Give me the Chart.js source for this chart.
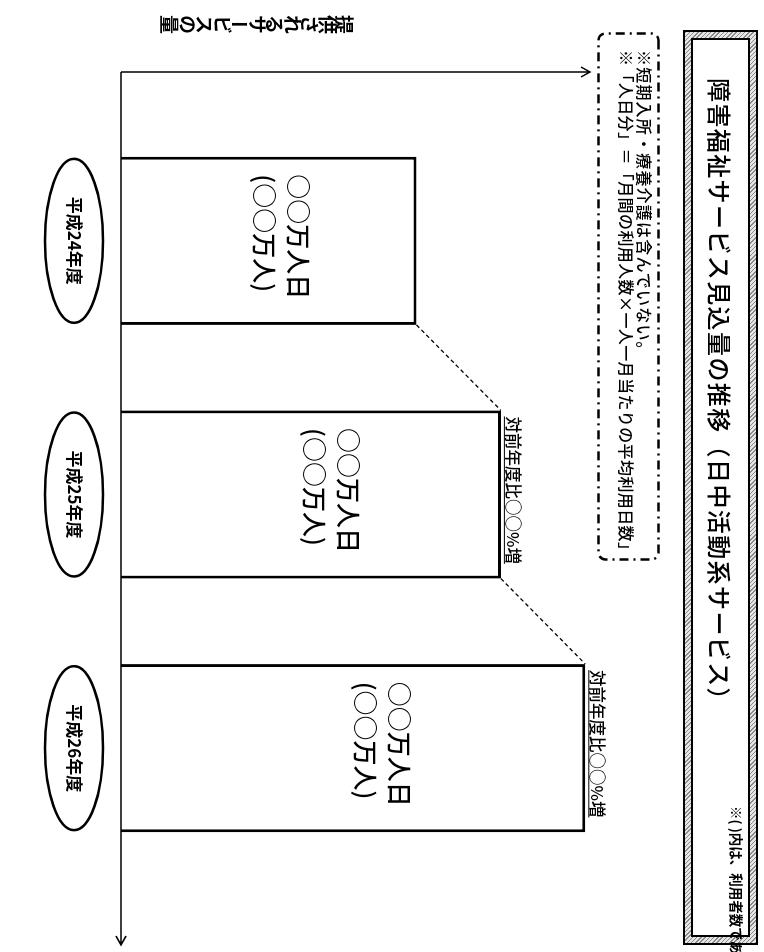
<!DOCTYPE html>
<html lang="ja">
<head>
<meta charset="utf-8">
<title>障害福祉サービス見込量の推移（日中活動系サービス）</title>
<script src="https://cdn.jsdelivr.net/npm/chart.js@4.4.1/dist/chart.umd.min.js"></script>
<style>
html, body { margin: 0; padding: 0; background: #fff; width: 764px; height: 952px; overflow: hidden; }
/* the sheet is laid out upright (952 x 764) and turned a quarter clockwise */
#page {
	position: absolute; left: 0; top: 0; width: 952px; height: 764px;
	transform-origin: 0 0; transform: translate(764px, 0) rotate(90deg);
	font-family: "Noto Sans CJK JP", sans-serif; color: #000; overflow: hidden;
}
#chart { position: absolute; left: 0; top: 0; }
#titleBox {
	position: absolute; left: 30px; top: 6px; width: 915px; height: 75px; box-sizing: border-box;
	border: 2px solid #000; padding: 6px;
	background: repeating-linear-gradient(45deg, #8a8a8a 0 1px, #e6e6e6 1px 3px);
}
#titleBox .inner {
	width: 100%; height: 100%; box-sizing: border-box; border: 2px solid #000; background: #fff;
	font-size: 24px; font-weight: 500; letter-spacing: 1.4px; line-height: 55px; padding-left: 38px; white-space: nowrap;
}
#noteBox { position: absolute; left: 32px; top: 104px; }
#noteText { position: absolute; left: 50px; top: 110px; font-size: 16px; font-weight: 500; line-height: 18px; white-space: nowrap; }
#noteText .l1 { letter-spacing: 1.2px; }
#noteText .l2 { letter-spacing: 0.4px; }
#axisTitle {
	position: absolute; left: 11px; top: 410px; writing-mode: vertical-rl;
	font-size: 19px; font-weight: bold; letter-spacing: -1.5px; white-space: nowrap;
}
#footNote { position: absolute; left: 806px; top: 17px; font-size: 13.5px; font-weight: bold; white-space: nowrap; }
</style>
</head>
<body>
<div id="page">
	<canvas id="chart" width="952" height="764"></canvas>
	<div id="titleBox"><div class="inner">障害福祉サービス見込量の推移（日中活動系サービス）</div></div>
	<svg id="noteBox" width="530" height="64">
		<rect x="1.5" y="1.5" width="526" height="60" rx="7" ry="7" fill="none" stroke="#000" stroke-width="2.5" stroke-dasharray="9 5 2 5"/>
	</svg>
	<div id="noteText">
		<div class="l1">※短期入所・療養介護は含んでいない。</div>
		<div class="l2">※「人日分」＝「月間の利用人数×一人一月当たりの平均利用日数」</div>
	</div>
	<div id="axisTitle">提供されるサービスの量</div>
	<div id="footNote">※( )内は、利用者数である。</div>
</div>

<script>
// fiscal years on the category axis
var years = ["平成24年度", "平成25年度", "平成26年度"];
// amount of service, relative units (the sheet only shows ○○ placeholders)
var serviceAmount = [63, 81, 99];
var valueMax = 100;
// texts written in and above the bars
var dayLabels = ["○○万人日", "○○万人日", "○○万人日"];
var userLabels = ["(○○万人)", "(○○万人)", "(○○万人)"];
var changeLabels = ["", "対前年度比○○%増", "対前年度比○○%増"];

var FONT = '"Noto Sans CJK JP", sans-serif';

var sheetDecor = {
	id: 'sheetDecor',
	afterDatasetsDraw: function(chart) {
		var ctx = chart.ctx;
		var area = chart.chartArea;
		var yScale = chart.scales.y;
		var bars = chart.getDatasetMeta(0).data;
		var axisY = yScale.getPixelForValue(0);
		var axisX = area.left - 42;
		var endX = area.right + 70;

		ctx.save();
		ctx.strokeStyle = '#000';
		ctx.fillStyle = '#000';

		// dashed links between the tops of neighbouring bars
		ctx.lineWidth = 1.3;
		ctx.setLineDash([4, 3]);
		ctx.beginPath();
		for (var i = 0; i < bars.length - 1; i++) {
			var a = bars[i], b = bars[i + 1];
			ctx.moveTo(a.x + a.width / 2, a.y);
			ctx.lineTo(b.x - b.width / 2, b.y);
		}
		ctx.stroke();
		ctx.setLineDash([]);

		// axes with open arrow heads
		ctx.lineWidth = 1.5;
		ctx.beginPath();
		ctx.moveTo(axisX, axisY);
		ctx.lineTo(axisX, area.top);
		ctx.moveTo(axisX - 5, area.top + 9);
		ctx.lineTo(axisX, area.top);
		ctx.lineTo(axisX + 5, area.top + 9);
		ctx.moveTo(axisX, axisY);
		ctx.lineTo(endX, axisY);
		ctx.moveTo(endX - 9, axisY - 5);
		ctx.lineTo(endX, axisY);
		ctx.lineTo(endX - 9, axisY + 5);
		ctx.stroke();

		for (var j = 0; j < bars.length; j++) {
			var bar = bars[j];
			var left = bar.x - bar.width / 2;
			var h = bar.base - bar.y;

			// amount text inside the bar
			ctx.font = '500 25px ' + FONT;
			ctx.textAlign = 'left';
			ctx.textBaseline = 'middle';
			var w = ctx.measureText(dayLabels[j]).width;
			var tx = bar.x - w / 2 - 4;
			var ty = bar.y + h * 0.4;
			ctx.fillText(dayLabels[j], tx, ty);
			ctx.fillText(userLabels[j], tx, ty + 34);

			// change from the year before, underlined
			if (changeLabels[j]) {
				ctx.font = '500 16.5px ' + FONT;
				ctx.textBaseline = 'alphabetic';
				var cw = ctx.measureText(changeLabels[j]).width;
				ctx.fillText(changeLabels[j], left + 6, bar.y - 6);
				ctx.lineWidth = 1;
				ctx.beginPath();
				ctx.moveTo(left + 6, bar.y - 3.5);
				ctx.lineTo(left + 6 + cw, bar.y - 3.5);
				ctx.stroke();
			}

			// year in an ellipse under the axis
			ctx.lineWidth = 2.5;
			ctx.beginPath();
			ctx.ellipse(bar.x, axisY + 47, 82, 29, 0, 0, Math.PI * 2);
			ctx.stroke();
			ctx.font = 'bold 17px ' + FONT;
			ctx.textAlign = 'center';
			ctx.textBaseline = 'middle';
			ctx.fillText(chart.data.labels[j], bar.x, axisY + 47);
		}
		ctx.restore();
	}
};

var chart = new Chart(document.getElementById('chart').getContext('2d'), {
	type: 'bar',
	data: {
		labels: years,
		datasets: [{
			data: serviceAmount,
			backgroundColor: '#ffffff',
			borderColor: '#000000',
			borderWidth: 3,
			categoryPercentage: 1,
			barPercentage: 0.663
		}]
	},
	options: {
		responsive: false,
		animation: false,
		layout: { padding: { left: 114, right: 77, top: 174, bottom: 121 } },
		scales: {
			x: { display: false },
			y: { display: false, min: 0, max: valueMax }
		},
		plugins: {
			legend: { display: false },
			tooltip: { enabled: false }
		}
	},
	plugins: [sheetDecor]
});
</script>
</body>
</html>
